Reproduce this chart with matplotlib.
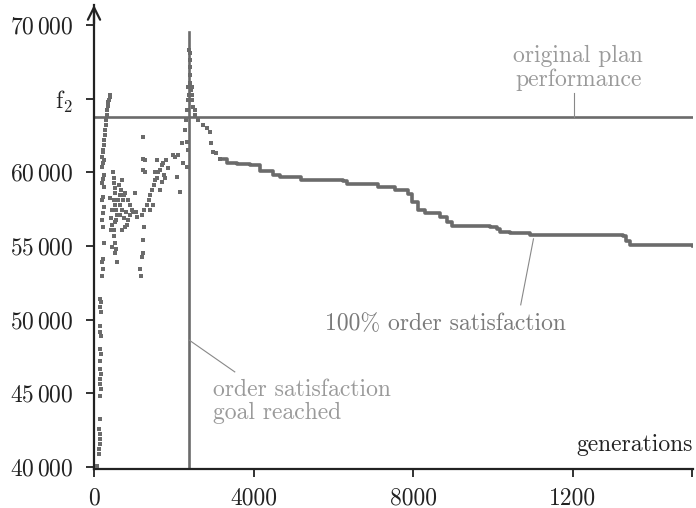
import matplotlib
matplotlib.use("Agg")
import matplotlib.pyplot as plt

plt.rcParams['font.family'] = 'cmr10'
plt.rcParams['mathtext.fontset'] = 'cm'
plt.rcParams['axes.unicode_minus'] = False

# ── Daten ────────────────────────────────────────────────────────────────────
# frühe Generationen: einzelne Lösungen (Punkte)
early_gen = [
    75, 125, 125, 150, 150, 150, 125, 150, 150, 175, 150, 150, 175, 150, 150, 175,
    150, 175, 150, 150, 175, 150, 175, 150,
    200, 225, 200, 225, 250, 225, 200, 225, 250, 200, 225, 250, 200, 225, 250, 200,
    225, 250, 200, 225,
    225, 240, 250, 265, 275, 290, 300, 315, 325, 340, 350, 370, 390, 400,
    400, 450, 425, 450, 425, 450, 475, 500, 500, 525, 525, 500, 525, 550, 575, 550,
    525, 500, 500, 525, 550, 525, 575, 650, 725, 775,
    600, 650, 700, 650, 750, 800, 850, 900, 825, 775, 700, 900, 950, 975, 850, 750,
    675, 625, 700,
    1025, 1050, 1075, 1150, 1175, 1200, 1225, 1225, 1250, 1200, 1250, 1225, 1275,
    1225, 1225,
    1325, 1375, 1400, 1450, 1500, 1525, 1575, 1600, 1650, 1700, 1750, 1800, 1525,
    1275, 1575, 1725, 1850, 1400, 1475, 1650, 1700, 1775,
    1975, 2025, 2075, 2100, 2150, 2200, 2225, 2275, 2325, 2325, 2350, 2300, 2325,
    2350, 2350, 2375,
    2375, 2400, 2400, 2400, 2400, 2400, 2425, 2450, 2450, 2450, 2475, 2525, 2525,
    2610, 2730, 2830, 2910, 2930, 2990, 3060, 3160,
]
early_fit = [
    40050, 40870, 41200, 41540, 41880, 42220, 42560, 43240, 44800, 45270, 45610,
    45950, 46290, 46630, 47160, 47640, 47980, 48860, 49130, 49540, 50490, 50830,
    51160, 51370,
    52930, 53400, 53880, 54080, 55230, 56310, 56790, 57260, 57670, 58140, 58350,
    59020, 59300, 59570, 59840, 60380, 60650, 60850, 61060, 61390,
    61530, 61870, 62210, 62550, 62890, 63220, 63560, 63900, 64240, 64510, 64780,
    64920, 65120, 65260,
    58280, 57470, 56920, 56450, 56110, 54960, 60040, 59630, 59300, 58960, 58620,
    58140, 57800, 57470, 57130, 56790, 56590, 56110, 55640, 55230, 54760, 54550,
    53880, 58480, 58140, 58620,
    58140, 57800, 57470, 57130, 56920, 57330, 56790, 57130, 56450, 56250, 56110,
    57800, 57470, 57330, 58140, 58480, 58820, 59160, 59500,
    58620, 57330, 56990, 53400, 52930, 54280, 54550, 55430, 56310, 57130, 57470,
    60180, 60850, 62410, 60920,
    57800, 58140, 58480, 58820, 59160, 59500, 59630, 60040, 60180, 60520, 59840,
    60850, 60040, 60040, 60850, 60650, 60310, 57470, 57800, 58820, 59360, 59630,
    61190, 61060, 59700, 61190, 58690, 62010, 60650, 62890, 62070, 60380, 61530,
    63560, 64240, 64920, 65800, 65260,
    68310, 68100, 67630, 67150, 66610, 66070, 65600, 65800, 65260, 64920, 64440,
    64240, 63900,
    63560, 63220, 63020, 62750, 62010, 61400, 61330, 60920,
]

# 100 % Auftragserfüllung: Verlauf der besten Lösung
best_gen = [3160, 3340, 3590, 3910, 4160, 4490, 4665, 5190, 6245, 6345, 6997, 7123,
            7550, 7875, 7975, 8126, 8300, 8678, 8853, 8979, 9932, 10108, 10183,
            10433, 10935, 11938, 13267, 13342, 13443, 14195, 15020]
best_fit = [60920, 60650, 60580, 60510, 60110, 59840, 59700, 59500, 59430, 59230,
            59230, 59025, 58820, 58550, 58010, 57470, 57260, 56990, 56650, 56380,
            56315, 56180, 55975, 55910, 55770, 55750, 55700, 55360, 55095, 55075,
            54980]

F2 = 63770           # Performance des ursprünglichen Plans
GOAL_GEN = 2380      # Generation, in der das Erfüllungsziel erreicht wurde
GOAL_TOP = 69530

y_ticks = [40000, 45000, 50000, 55000, 60000, 65000, 70000]
y_labels = [r'$40\,000$', r'$45\,000$', r'$50\,000$', r'$55\,000$', r'$60\,000$',
            r'$\mathrm{f}_2$', r'$70\,000$']
x_ticks = [0, 4000, 8000, 12000, 15000]
x_labels = ['0', '4000', '8000', '1200', '']

GREY = '#6b6b6b'
TXT = '#9a9a9a'
FS = 17

# ── Plot ─────────────────────────────────────────────────────────────────────
fig = plt.figure(figsize=(6.96, 5.08), dpi=100)
ax = fig.add_axes([94 / 696, 39 / 508, 599 / 696, 464 / 508])

ax.axhline(F2, color=GREY, lw=1.9, zorder=2)
ax.plot([GOAL_GEN, GOAL_GEN], [39860, GOAL_TOP], color=GREY, lw=1.9, zorder=2)
ax.plot(early_gen, early_fit, 's', color=GREY, ms=2.8, mew=0, zorder=3)
ax.step(best_gen, best_fit, where='post', color=GREY, lw=2.6, zorder=3)

ax.set_xlim(0, 15020)
ax.set_ylim(39860, 71350)

ax.set_yticks(y_ticks)
ax.set_yticklabels(y_labels)
ax.set_xticks(x_ticks)
ax.set_xticklabels(x_labels)
ax.tick_params(axis='both', length=6, width=1.3, labelsize=FS, color='#222222',
               labelcolor='#222222')
ax.tick_params(axis='y', pad=9)
ax.tick_params(axis='x', pad=7)

for s in ['top', 'right']:
    ax.spines[s].set_visible(False)
for s in ['left', 'bottom']:
    ax.spines[s].set_linewidth(1.6)
    ax.spines[s].set_color('#222222')

# Pfeil an der y-Achse
ax.annotate('', xy=(0, 1.0), xytext=(0, 0.96), xycoords='axes fraction',
            arrowprops=dict(arrowstyle='->', lw=1.6, color='#222222',
                            mutation_scale=22, shrinkA=0, shrinkB=0),
            annotation_clip=False)

# Beschriftungen
ax.text(12140, 65530, 'original plan\nperformance', ha='center', va='bottom',
        color=TXT, fontsize=FS, linespacing=1.1)
ax.plot([12040, 12040], [F2, 65390], color='#888888', lw=0.8)

ax.text(8800, 49700, '100% order satisfaction', ha='center', va='center',
        color='#7a7a7a', fontsize=FS)
ax.plot([10700, 11020], [51000, 55480], color='#888888', lw=0.8)

ax.text(2980, 45950, 'order satisfaction\ngoal reached', ha='left', va='top',
        color=TXT, fontsize=FS, linespacing=1.05)
ax.plot([GOAL_GEN, 3530], [48620, 46450], color='#888888', lw=0.8)

ax.text(15020, 41500, 'generations', ha='right', va='center', color='#222222',
        fontsize=FS)

fig.savefig('out.png', dpi=100)
